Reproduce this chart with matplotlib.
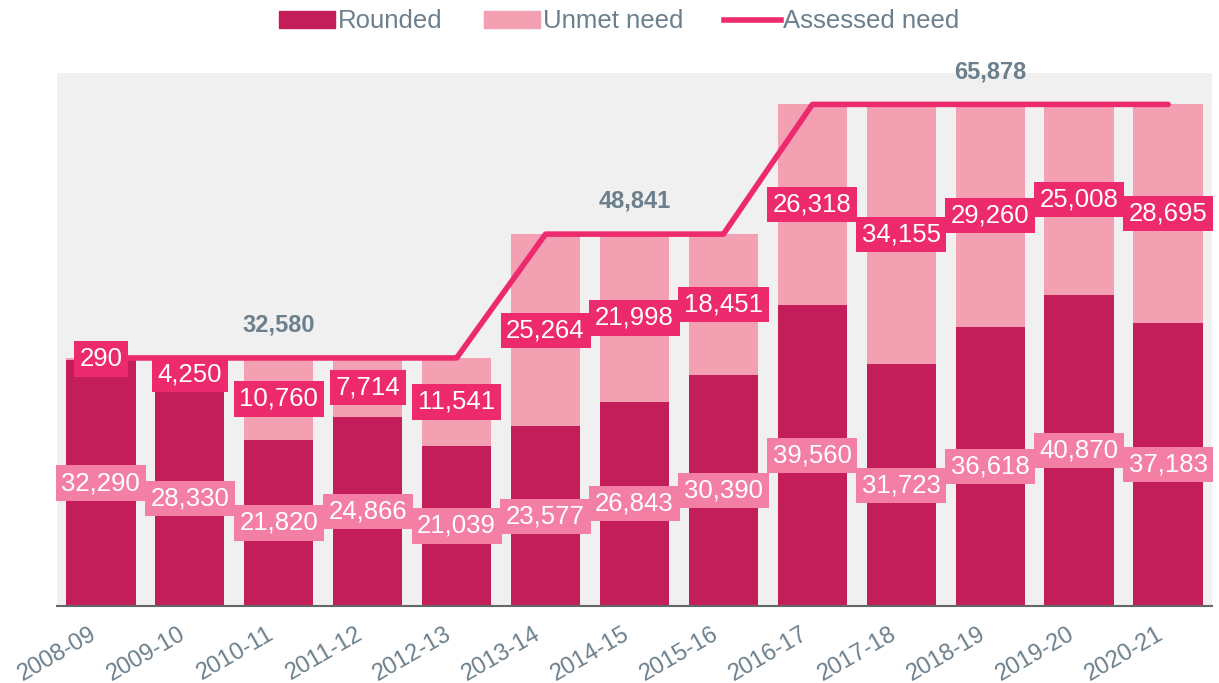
import numpy as np
import matplotlib.pyplot as plt
import matplotlib.transforms as mtrans
from matplotlib.patches import Patch
from matplotlib.lines import Line2D

plt.rcParams['font.family'] = ['Liberation Sans', 'DejaVu Sans']

years = ['2008-09', '2009-10', '2010-11', '2011-12', '2012-13', '2013-14', '2014-15',
         '2015-16', '2016-17', '2017-18', '2018-19', '2019-20', '2020-21']
rounded = [32290, 28330, 21820, 24866, 21039, 23577, 26843, 30390, 39560, 31723, 36618, 40870, 37183]
unmet = [290, 4250, 10760, 7714, 11541, 25264, 21998, 18451, 26318, 34155, 29260, 25008, 28695]
assessed = [32580, 32580, 32580, 32580, 32580, 48841, 48841, 48841, 65878, 65878, 65878, 65878, 65878]
# where the assessed-need total is written
total_idx = [2, 6, 10]

c_round = '#C41E5A'
c_unmet = '#F4A0B3'
c_line = '#EE2A6E'
c_rlab = '#F47FA4'
c_text = '#6B7F8C'

fig = plt.figure(figsize=(12.19, 6.83), dpi=100)
ax = fig.add_axes([0.047, 0.1127, 0.947, 0.7804])
ax.set_facecolor('#F0F0F0')

x = np.arange(len(years))
rounded = np.array(rounded)
unmet = np.array(unmet)
ax.bar(x, rounded, width=0.78, color=c_round, zorder=2)
ax.bar(x, unmet, width=0.78, bottom=rounded, color=c_unmet, zorder=2)
ax.plot(x, assessed, color=c_line, lw=4, solid_capstyle='round', zorder=3)

for i in range(len(x)):
    ax.text(x[i], rounded[i] / 2, f'{rounded[i]:,}', ha='center', va='center', fontsize=18.5,
            color='white', zorder=4,
            bbox=dict(boxstyle='square,pad=0.22', fc=c_rlab, ec='none'))
    ax.text(x[i], rounded[i] + unmet[i] / 2, f'{unmet[i]:,}', ha='center', va='center', fontsize=18.5,
            color='white', zorder=4,
            bbox=dict(boxstyle='square,pad=0.22', fc=c_line, ec='none'))

for i in total_idx:
    ax.text(x[i], assessed[i] + 2800, f'{assessed[i]:,}', ha='center', va='bottom', fontsize=17,
            fontweight='bold', color=c_text, zorder=4)

ax.set_xlim(-0.49, 12.49)
ax.set_ylim(0, 70000)
ax.set_yticks([])
ax.set_xticks(x)
ax.set_xticklabels(years, rotation=30, ha='right', rotation_mode='anchor', fontsize=17, color=c_text)
ax.tick_params(axis='x', length=0, pad=12)
shift = mtrans.ScaledTranslation(-0.12, 0, fig.dpi_scale_trans)
for lab in ax.get_xticklabels():
    lab.set_transform(lab.get_transform() + shift)
for s in ['top', 'right', 'left']:
    ax.spines[s].set_visible(False)
ax.spines['bottom'].set_color('#666666')
ax.spines['bottom'].set_linewidth(1.5)

handles = [Patch(color=c_round), Patch(color=c_unmet), Line2D([], [], color=c_line, lw=4)]
leg = fig.legend(handles, ['Rounded', 'Unmet need', 'Assessed need'], loc='upper center',
                 bbox_to_anchor=(0.508, 1.02), ncol=3, frameon=False, fontsize=18.5,
                 handlelength=2.2, handleheight=0.6, handletextpad=0.1, columnspacing=1.6)
for t in leg.get_texts():
    t.set_color(c_text)

fig.savefig('out.png', dpi=100)
